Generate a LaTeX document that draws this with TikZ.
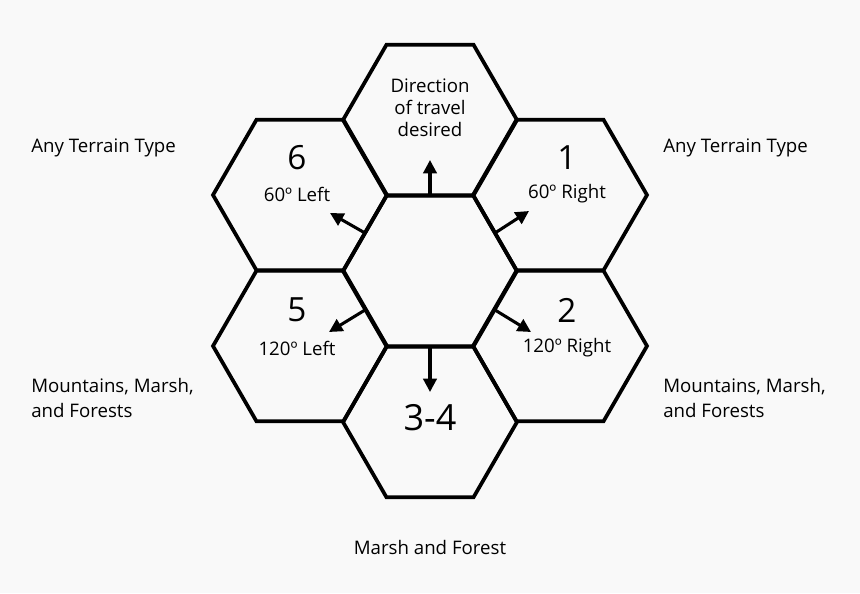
\documentclass[tikz,border=0pt]{standalone}
\usepackage{fontspec}
\setmainfont{Open Sans}
\usetikzlibrary{arrows.meta}
\begin{document}
\begin{tikzpicture}[x=0.75pt,y=-0.75pt,
  hexa/.style={draw=black,line width=2.8pt,line join=miter},
  arr/.style={line width=2.3pt,-{Triangle[length=10pt,width=10pt]}},
  lab/.style={font=\fontsize{14}{16.5}\selectfont,align=center,inner sep=0},
  big/.style={font=\fontsize{25}{28}\selectfont,inner sep=0},
  side/.style={font=\fontsize{14}{19}\selectfont,align=left,anchor=west,inner sep=0}]
\fill[fill={rgb,255:red,249;green,249;blue,249}] (0,0) rectangle (860,593);
\useasboundingbox (0,0) rectangle (860,593);
\def\R{87}
\foreach \n/\cx/\cy in {c/430/271,t/430/120,ur/560/195,lr/560/346,b/430/422,ll/300/346,ul/300/195}{
  \draw[hexa] (\cx+\R,\cy) -- (\cx+\R/2,\cy-75.3) -- (\cx-\R/2,\cy-75.3) -- (\cx-\R,\cy) -- (\cx-\R/2,\cy+75.3) -- (\cx+\R/2,\cy+75.3) -- cycle;
  \coordinate (\n) at (\cx,\cy);
}
\coordinate (a1) at (430,196); \coordinate (a1e) at (430,160);
\coordinate (a2) at (495,233); \coordinate (a2e) at (529,211);
\coordinate (a3) at (495,310); \coordinate (a3e) at (531,332);
\coordinate (a4) at (430,347); \coordinate (a4e) at (430,392);
\coordinate (a5) at (365,310); \coordinate (a5e) at (329,332);
\coordinate (a6) at (365,233); \coordinate (a6e) at (330,213);
\foreach \i in {1,...,6}{\draw[arr] (a\i) -- (a\i e);}
\node[lab] (top) at (430,108) {Direction\\of travel\\desired};
\node[big] (n6) at (297,158) {6};
\node[lab] (l6) at (297,194) {60º Left};
\node[big] (n1) at (567,158) {1};
\node[lab] (l1) at (567,194) {60º Right};
\node[big] (n5) at (297,310) {5};
\node[lab] (l5) at (297,348) {120º Left};
\node[big] (n2) at (567,310) {2};
\node[lab] (l2) at (567,348) {120º Right};
\node[big,font=\fontsize{27}{30}\selectfont] (n34) at (430,418) {3-4};
\node[side] (s1) at (31,148) {Any Terrain Type};
\node[side] (s2) at (663,148) {Any Terrain Type};
\node[side] (s3) at (31,398) {Mountains, Marsh,\\and Forests};
\node[side] (s4) at (663,398) {Mountains, Marsh,\\and Forests};
\node[lab] (s5) at (430,547) {Marsh and Forest};
\end{tikzpicture}
\end{document}
